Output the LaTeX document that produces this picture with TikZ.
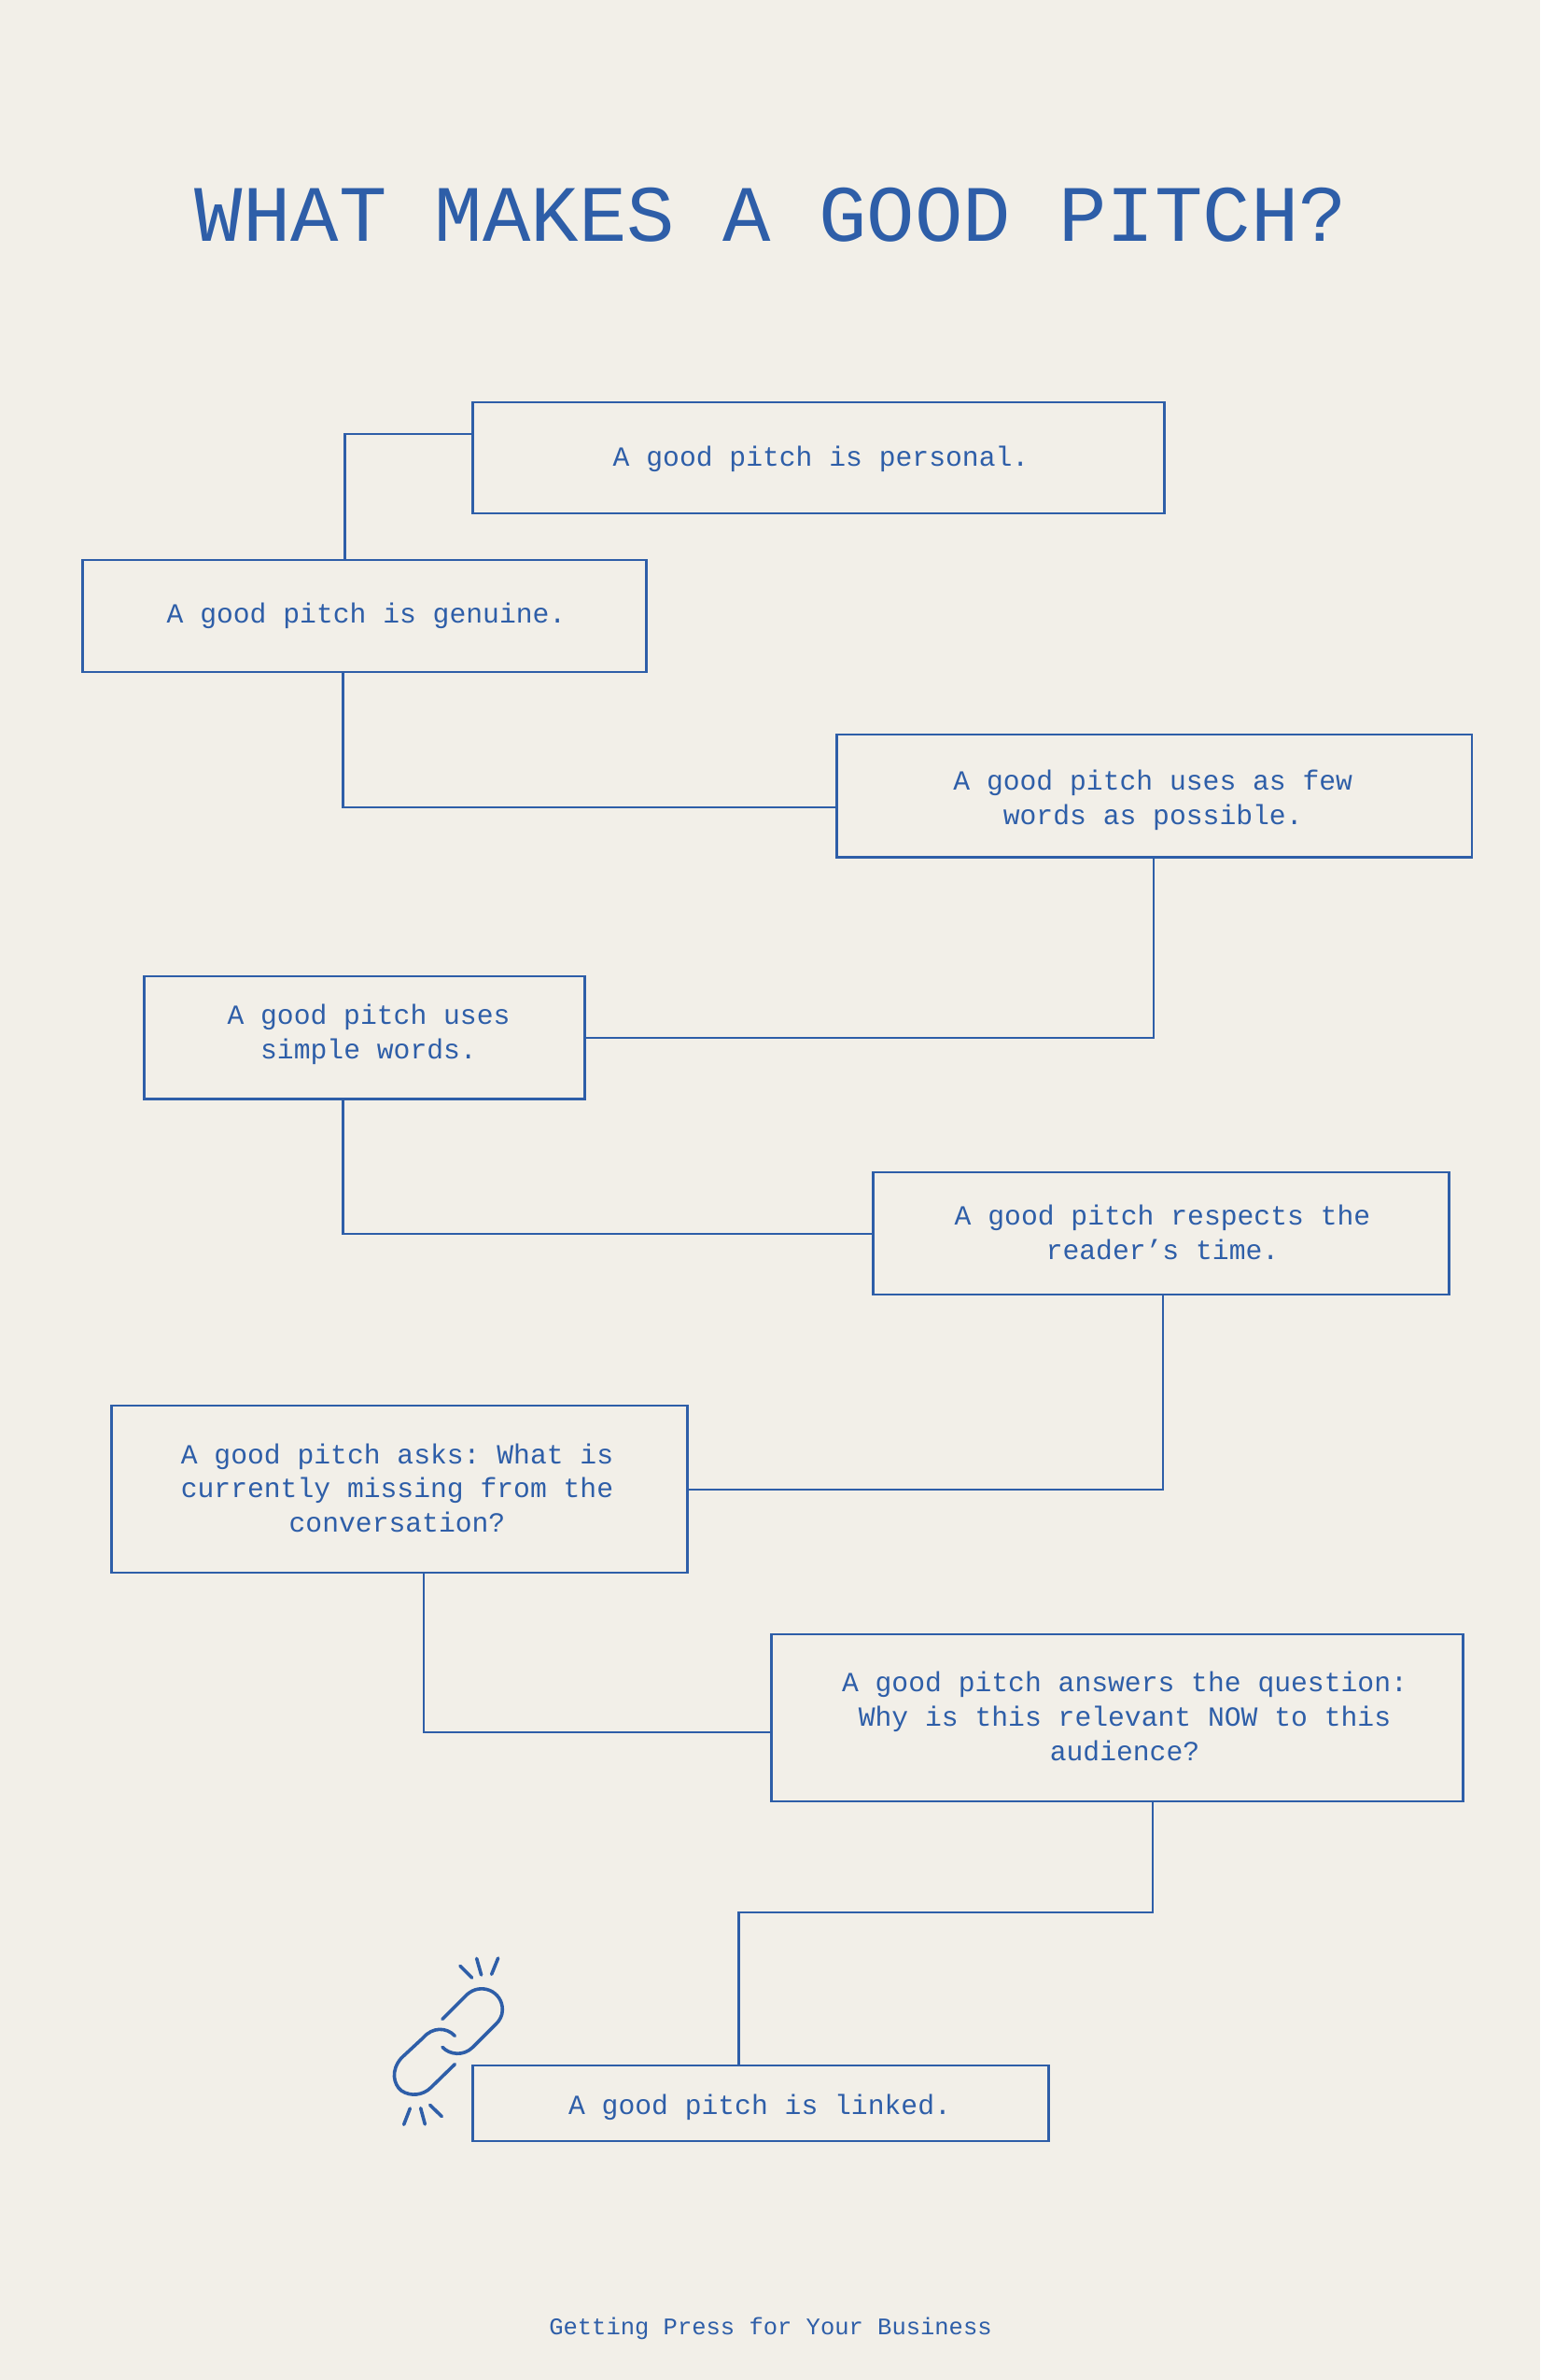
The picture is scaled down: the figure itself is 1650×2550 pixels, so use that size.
\documentclass[tikz,border=0pt]{standalone}
\usepackage{fontspec}
\setmainfont{Liberation Mono}
\definecolor{ink}{HTML}{2E5EA8}
\definecolor{paper}{HTML}{F2EFE8}
\tikzset{
  pbox/.style={draw=ink,line width=2.2pt,rectangle,inner sep=0pt,outer sep=0pt,text=ink,anchor=north west},
  link/.style={draw=ink,line width=2.2pt,line cap=butt},
  icon/.style={draw=ink,line width=3.6pt,line cap=round,line join=round},
  caption/.style={text=ink,inner sep=0pt}
}
% \pb{name}{x1}{y1}{x2}{y2}{dx}{dy}{lines}
\newcommand{\pb}[8]{%
  \pgfmathsetmacro{\pw}{#4-#2}\pgfmathsetmacro{\ph}{#5-#3}%
  \node[pbox,minimum width=\pw pt,minimum height=\ph pt] (#1) at (#2,#3)
  {\fontsize{29.7}{37}\selectfont\renewcommand{\arraystretch}{1}\raisebox{\dimexpr #7pt-5.8pt\relax}[0pt][0pt]{\hspace*{#6pt}\begin{tabular}{@{}c@{}}#8\end{tabular}}};}
\frenchspacing
\begin{document}
\begin{tikzpicture}[x=1pt,y=-1pt]
\path[fill=paper] (0,0) rectangle (1650,2550);
\useasboundingbox (0,0) rectangle (1650,2550);
\node[caption,font=\fontsize{85.7}{90}\selectfont] (title) at (826,230) {WHAT MAKES A GOOD PITCH?};
\pb{n1}{506.5}{431}{1247.5}{550}{5}{-1.6}{A good pitch is personal.}
\pb{n2}{88.5}{600}{692.5}{720}{4}{-1}{A good pitch is genuine.}
\pb{n3}{896.5}{787}{1577}{918.5}{-3}{-5.5}{A good pitch uses as few\\words as possible.}
\pb{n4}{154.5}{1046}{626.5}{1177.5}{9}{3}{A good pitch uses\\simple words.}
\pb{n5}{935.5}{1256}{1552.5}{1387}{3}{-2.5}{A good pitch respects the\\reader’s time.}
\pb{n6}{119.5}{1506}{736.5}{1685}{-5}{-2.5}{A good pitch asks: What is\\currently missing from the\\conversation?}
\pb{n7}{826.5}{1751}{1567.5}{1930}{16}{-1.6}{A good pitch answers the question:\\Why is this relevant NOW to this\\audience?}
\pb{n8}{506.5}{2213}{1123.5}{2294}{-2}{-5}{A good pitch is linked.}
\node[caption,font=\fontsize{25.5}{30}\selectfont] (foot) at (825.5,2495) {Getting Press for Your Business};
\draw[link] (n1.west |- 0,465) -- (369.5,465) -- (n2.north -| 369.5,0);
\draw[link] (n2.south -| 367.5,0) -- (367.5,865) -- (n3.west |- 0,865);
\draw[link] (n3.south -| 1236,0) -- (1236,1112) -- (n4.east |- 0,1112);
\draw[link] (n4.south -| 367.5,0) -- (367.5,1322) -- (n5.west |- 0,1322);
\draw[link] (n5.south -| 1246,0) -- (1246,1596) -- (n6.east |- 0,1596);
\draw[link] (n6.south -| 454,0) -- (454,1856) -- (n7.west |- 0,1856);
\draw[link] (n7.south -| 1235,0) -- (1235,2049) -- (791.5,2049) -- (n8.north -| 791.5,0);
\begin{scope}[shift={(400,2060)},x=0.3333pt,y=-0.3333pt]
\draw[icon] (222,310) -- (300,232) .. controls (345,190) and (415,220) .. (415,280) .. controls (415,300) and (405,315) .. (395,325) -- (320,400) .. controls (290,430) and (245,425) .. (222,400);
\draw[icon] (262,364) .. controls (235,335) and (190,335) .. (160,370) -- (90,435) .. controls (55,475) and (65,520) .. (90,540) .. controls (120,560) and (160,555) .. (185,530) -- (262,455);
\draw[icon] (279,139) -- (317,177);
\draw[icon] (332,115) -- (347,168);
\draw[icon] (401,114) -- (380,166);
\draw[icon] (182,586) -- (220,623);
\draw[icon] (152,596) -- (166,648);
\draw[icon] (118,597) -- (98,649);
\end{scope}
\end{tikzpicture}
\end{document}
